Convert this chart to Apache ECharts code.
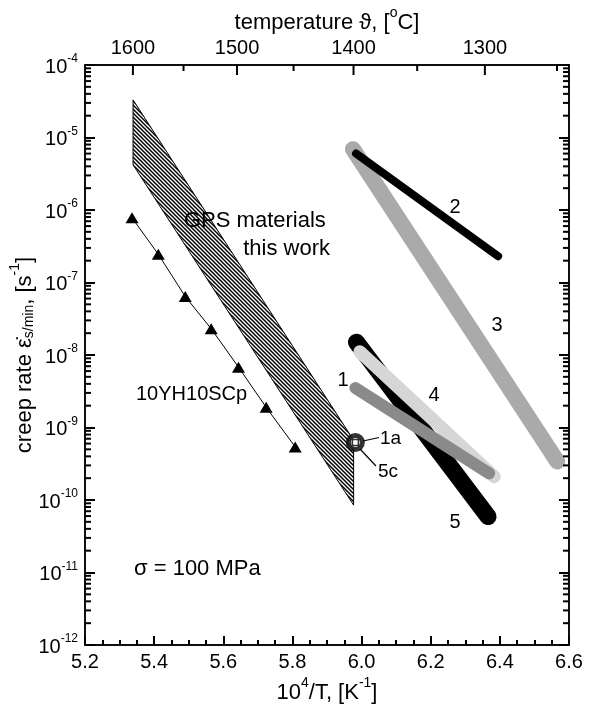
<!DOCTYPE html>
<html><head><meta charset="utf-8">
<script src="https://cdn.jsdelivr.net/npm/echarts@6/dist/echarts.min.js"></script>
<style>html,body{margin:0;padding:0;background:#fff}#c{width:589px;height:708px}</style>
</head><body><div id="c"></div>
<script>
// ---------- data ----------
const xTickLabels = ['5.2','5.4','5.6','5.8','6.0','6.2','6.4','6.6'];
const tempMajor = [1600, 1500, 1400, 1300];
const tempMinor = [1550, 1450, 1350, 1250];
const scpX = [5.336, 5.412, 5.490, 5.565, 5.644, 5.724, 5.808];
const scpY = [7.8e-7, 2.45e-7, 6.4e-8, 2.3e-8, 6.8e-9, 1.9e-9, 5.4e-10];
const gpsX = [5.339, 5.339, 5.977, 5.977];
const gpsY = [3.3e-5, 4.2e-6, 8.5e-11, 6.7e-10];
const line1X = [5.982, 6.369], line1Y = [3.5e-9, 2.33e-10];
const line2X = [5.984, 6.395], line2Y = [6.0e-6, 2.3e-7];
const line3X = [5.975, 6.566], line3Y = [6.9e-6, 3.4e-10];
const line4X = [5.995, 6.384], line4Y = [1.11e-8, 2.1e-10];
const line5X = [5.985, 6.366], line5Y = [1.5e-8, 5.9e-11];
const pointX = [5.982], pointY = [6.2e-10];

const FONT = '"Liberation Sans", Arial, Helvetica, sans-serif';
const zip = (xs, ys) => xs.map((x, i) => [x, ys[i]]);
const invT = t => 1e4 / (t + 273.15);

function makeHatch() {
  const s = 4;
  const c = document.createElement('canvas');
  c.width = s; c.height = s;
  const g = c.getContext('2d');
  g.strokeStyle = '#000'; g.lineWidth = 1.5;
  g.beginPath();
  g.moveTo(0, 0); g.lineTo(s, s);
  g.moveTo(-2, s - 2); g.lineTo(2, s + 2);
  g.moveTo(s - 2, -2); g.lineTo(s + 2, 2);
  g.stroke();
  return c;
}
const hatch = makeHatch();

const supRich = {
  b: { fontSize: 20, fontFamily: FONT, color: '#000', lineHeight: 24, verticalAlign: 'bottom' },
  s: { fontSize: 12, fontFamily: FONT, color: '#000', lineHeight: 12, verticalAlign: 'top' }
};
const titleRich = {
  a: { fontSize: 22, fontFamily: FONT, color: '#000', lineHeight: 28, verticalAlign: 'bottom' },
  s: { fontSize: 14, fontFamily: FONT, color: '#000', lineHeight: 14, verticalAlign: 'top' },
  u: { fontSize: 14, fontFamily: FONT, color: '#000', lineHeight: 14, verticalAlign: 'bottom' }
};

const chart = echarts.init(document.getElementById('c'), null, { renderer: 'canvas' });

const lineSeries = (name, xs, ys, color, width) => ({
  name, type: 'line', data: zip(xs, ys), symbol: 'none', silent: true,
  lineStyle: { color, width, cap: 'round' }, z: 3
});
const txt = (text, x, y, size, align) => ({
  type: 'text', z: 10, silent: true,
  style: { text, x, y, align: align || 'center', verticalAlign: 'middle', fontSize: size, fontFamily: FONT, fill: '#000' }
});
const seg = (x1, y1, x2, y2, w, c) => ({
  type: 'line', z: 10, silent: true,
  shape: { x1, y1, x2, y2 }, style: { stroke: c || '#000', lineWidth: w || 1.2 }
});
const TICK = { show: true, inside: true, length: 10, lineStyle: { color: '#000', width: 2 } };

chart.setOption({
  animation: false,
  backgroundColor: '#fff',
  grid: { left: 85, right: 20, top: 65, bottom: 63, containLabel: false, outerBoundsMode: 'none',
    show: true, borderColor: '#000', borderWidth: 1.5, backgroundColor: 'transparent' },
  xAxis: [{
    type: 'value', min: 5.2, max: 6.6, interval: 0.2, position: 'bottom',
    axisLine: { show: true, lineStyle: { color: '#000', width: 1.5 } },
    axisTick: Object.assign({}, TICK, { length: 9 }),
    minorTick: { show: true, splitNumber: 4, length: 5, lineStyle: { color: '#000', width: 2 } },
    splitLine: { show: false },
    axisLabel: { color: '#000', fontSize: 20, fontFamily: FONT, margin: 7,
      formatter: v => xTickLabels[Math.round((v - 5.2) / 0.2)] },
    name: '{a|10}{s|4}{a|/T, [K}{s|-1}{a|]}', nameLocation: 'middle', nameGap: 31, nameMoveOverlap: false,
    nameTextStyle: { rich: titleRich }
  }, {
    type: 'value', min: 5.2, max: 6.6, position: 'top',
    axisLine: { show: true, lineStyle: { color: '#000', width: 1.5 } },
    axisTick: { show: false }, axisLabel: { show: false }, splitLine: { show: false },
    name: '{a|temperature ϑ, [}{s|o}{a|C]}', nameLocation: 'middle', nameGap: 31, nameMoveOverlap: false,
    nameTextStyle: { rich: titleRich }
  }],
  yAxis: [{
    type: 'log', logBase: 10, min: 1e-12, max: 1e-4, interval: 1, position: 'left',
    axisLine: { show: true, lineStyle: { color: '#000', width: 1.5 } },
    axisTick: TICK,
    splitLine: { show: false },
    axisLabel: { margin: 7, formatter: v => '{b|10}{s|' + Math.round(Math.log10(v)) + '}', rich: supRich },
    name: '{a|creep rate ε̇}{u|s/min}{a|, [s}{s|-1}{a|]}', nameLocation: 'middle', nameGap: 49, nameMoveOverlap: false,
    nameTextStyle: { rich: titleRich }
  }, {
    type: 'log', logBase: 10, min: 1e-12, max: 1e-4, interval: 1, position: 'right',
    axisLine: { show: true, lineStyle: { color: '#000', width: 1.5 } },
    axisTick: TICK, axisLabel: { show: false }, splitLine: { show: false }
  }],
  series: [
    {
      name: 'GPS', type: 'custom', silent: true, z: 2,
      data: [[gpsX[0], gpsY[0]]],
      renderItem: (params, api) => {
        const pts = gpsX.map((x, i) => api.coord([x, gpsY[i]]));
        return { type: 'polygon', shape: { points: pts },
          style: { fill: { image: hatch, repeat: 'repeat' }, stroke: '#000', lineWidth: 1 } };
      }
    },
    {
      name: '10YH10SCp', type: 'line', data: zip(scpX, scpY), silent: true, z: 3,
      symbol: 'triangle', symbolSize: [13, 11],
      lineStyle: { color: '#000', width: 1 }, itemStyle: { color: '#000' }
    },
    lineSeries('3', line3X, line3Y, '#aaaaaa', 16),
    lineSeries('2', line2X, line2Y, '#000000', 8),
    lineSeries('5', line5X, line5Y, '#000000', 17),
    lineSeries('4', line4X, line4Y, '#d6d6d6', 13),
    lineSeries('1', line1X, line1Y, '#8a8a8a', 12),
    {
      name: '1a', type: 'scatter', data: zip(pointX, pointY), silent: true, z: 5,
      symbol: 'circle', symbolSize: 14,
      itemStyle: { color: '#fff', borderColor: '#000', borderWidth: 5 }
    },
    {
      name: '5c', type: 'scatter', data: zip(pointX, pointY), silent: true, z: 6,
      symbol: 'rect', symbolSize: 6,
      itemStyle: { color: '#fff', borderColor: '#000', borderWidth: 1.5 }
    }
  ]
});

const P = (x, y) => chart.convertToPixel({ xAxisIndex: 0, yAxisIndex: 0 }, [x, y]);
const g = [];
// y minor ticks on both sides
for (let e = -12; e < -4; e++) {
  for (let m = 2; m <= 9; m++) {
    const v = m * Math.pow(10, e);
    const l = P(5.2, v), r = P(6.6, v);
    g.push(seg(l[0], l[1], l[0] + 6, l[1], 2, '#000'));
    g.push(seg(r[0], r[1], r[0] - 6, r[1], 2, '#000'));
  }
}
// top temperature axis
tempMajor.forEach(t => {
  const p = P(invT(t), 1e-4);
  g.push(seg(p[0], p[1], p[0], p[1] + 10, 2, '#000'));
  g.push({ type: 'text', z: 10, silent: true, style: { text: String(t), x: p[0], y: p[1] - 7,
    align: 'center', verticalAlign: 'bottom', fontSize: 20, fontFamily: FONT, fill: '#000' } });
});
tempMinor.forEach(t => {
  const p = P(invT(t), 1e-4);
  g.push(seg(p[0], p[1], p[0], p[1] + 6, 2, '#000'));
});
g.push(txt('GPS materials', 184, 221, 22, 'left'));
g.push(txt('this work', 330, 249, 22, 'right'));
g.push(txt('10YH10SCp', 136, 394, 20, 'left'));
g.push(txt('σ = 100 MPa', 134, 569, 22, 'left'));
g.push(txt('1', 343, 380, 20));
g.push(txt('2', 455, 207, 20));
g.push(txt('3', 497, 325, 20));
g.push(txt('4', 434, 395, 20));
g.push(txt('5', 455, 522, 20));
g.push(txt('1a', 380, 439, 19, 'left'));
g.push(txt('5c', 378, 472, 19, 'left'));
g.push(seg(363, 441, 379, 437.5, 1.2));
g.push(seg(360, 449, 376, 466, 1.2));
chart.setOption({ graphic: g });
</script>
</body></html>
